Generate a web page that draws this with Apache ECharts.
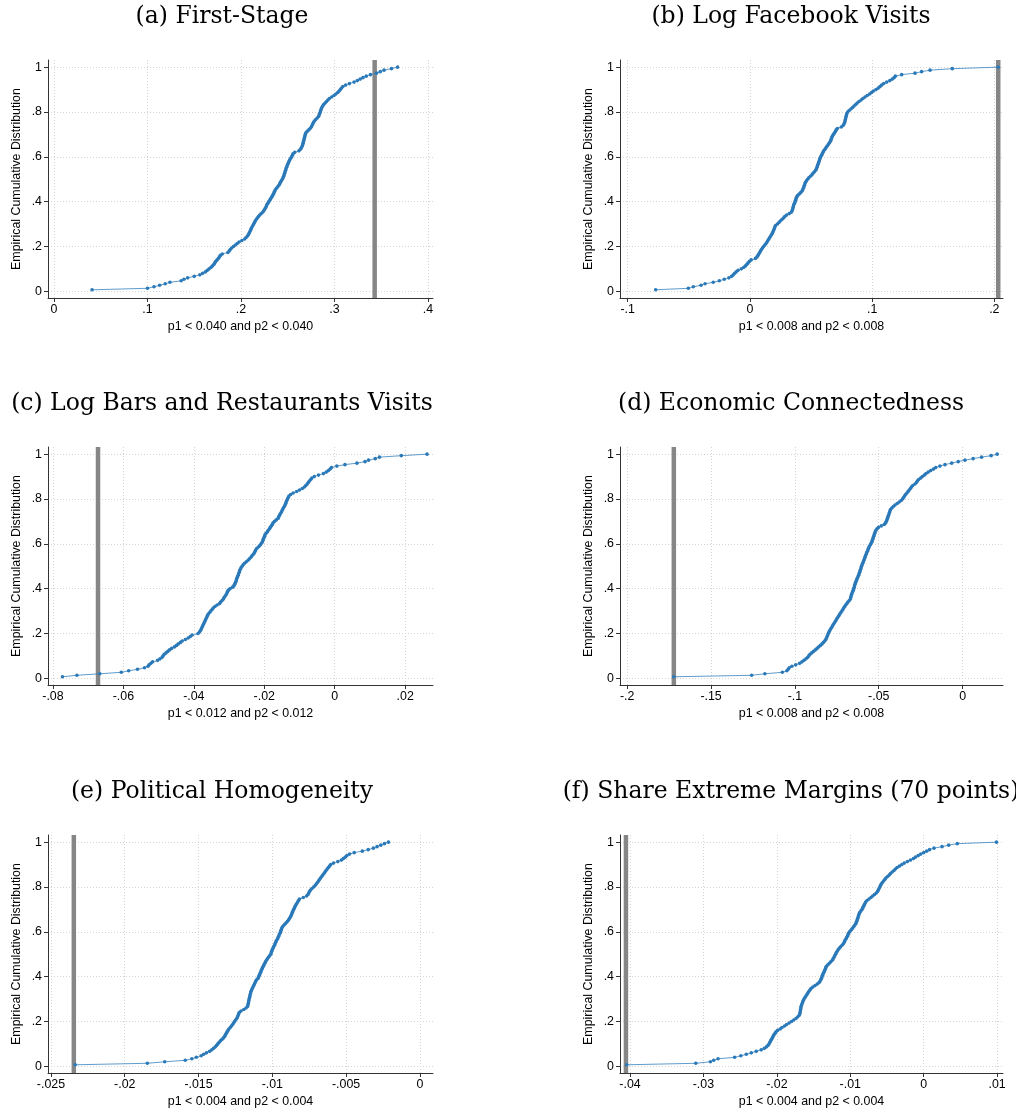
<!DOCTYPE html>
<html>
<head>
<meta charset="utf-8">
<title>Empirical cumulative distributions</title>
<script src="https://cdn.jsdelivr.net/npm/echarts@6/dist/echarts.min.js"></script>
<style>
  html, body { margin: 0; padding: 0; background: #fff; }
  #chart { width: 1016px; height: 1114px; }
</style>
</head>
<body>
<div id="chart"></div>
<script>
// Panel titles and x-axis captions
const titles = [
  '(a) First-Stage',
  '(b) Log Facebook Visits',
  '(c) Log Bars and Restaurants Visits',
  '(d) Economic Connectedness',
  '(e) Political Homogeneity',
  '(f) Share Extreme Margins (70 points)'
];
const xNames = [
  'p1 < 0.040 and p2 < 0.040',
  'p1 < 0.008 and p2 < 0.008',
  'p1 < 0.012 and p2 < 0.012',
  'p1 < 0.008 and p2 < 0.008',
  'p1 < 0.004 and p2 < 0.004',
  'p1 < 0.004 and p2 < 0.004'
];
const yName = 'Empirical Cumulative Distribution';

// Reference estimate for each panel (vertical bar)
const refLines = [0.343, 0.2032, -0.0672, -0.1722, -0.02345, -0.04055];

// Tick values
const xTicksA = [0, 0.1, 0.2, 0.3, 0.4];
const xTicksB = [-0.1, 0, 0.1, 0.2];
const xTicksC = [-0.08, -0.06, -0.04, -0.02, 0, 0.02];
const xTicksD = [-0.2, -0.15, -0.1, -0.05, 0];
const xTicksE = [-0.025, -0.02, -0.015, -0.01, -0.005, 0];
const xTicksF = [-0.04, -0.03, -0.02, -0.01, 0, 0.01];
const yTicks = [0, 0.2, 0.4, 0.6, 0.8, 1];

// Sorted estimates per panel; the cumulative share is rank / count
const estA = [
  0.0407, 0.1000, 0.1070, 0.1130, 0.1190, 0.1240, 0.1360, 0.1390, 0.1430, 0.1500,
  0.1560, 0.1590, 0.1620, 0.1640, 0.1660, 0.1680, 0.1695, 0.1710, 0.1720, 0.1730,
  0.1745, 0.1758, 0.1770, 0.1780, 0.1800, 0.1860, 0.1875, 0.1885, 0.1900, 0.1920,
  0.1940, 0.1960, 0.1980, 0.2010, 0.2040, 0.2055, 0.2070, 0.2080, 0.2088, 0.2096,
  0.2104, 0.2110, 0.2118, 0.2127, 0.2136, 0.2145, 0.2152, 0.2163, 0.2175, 0.2187,
  0.2200, 0.2217, 0.2234, 0.2245, 0.2255, 0.2265, 0.2272, 0.2278, 0.2288, 0.2298,
  0.2308, 0.2318, 0.2328, 0.2338, 0.2346, 0.2354, 0.2360, 0.2368, 0.2380, 0.2393,
  0.2405, 0.2415, 0.2422, 0.2432, 0.2442, 0.2450, 0.2456, 0.2462, 0.2467, 0.2472,
  0.2477, 0.2482, 0.2488, 0.2494, 0.2500, 0.2507, 0.2514, 0.2522, 0.2532, 0.2542,
  0.2550, 0.2557, 0.2575, 0.2620, 0.2636, 0.2646, 0.2654, 0.2660, 0.2664, 0.2668,
  0.2672, 0.2676, 0.2680, 0.2684, 0.2688, 0.2694, 0.2708, 0.2725, 0.2740, 0.2752,
  0.2760, 0.2768, 0.2775, 0.2785, 0.2800, 0.2815, 0.2830, 0.2836, 0.2842, 0.2848,
  0.2853, 0.2858, 0.2865, 0.2874, 0.2885, 0.2900, 0.2915, 0.2930, 0.2945, 0.2970,
  0.2995, 0.3015, 0.3035, 0.3050, 0.3063, 0.3075, 0.3090, 0.3120, 0.3160, 0.3210,
  0.3245, 0.3275, 0.3305, 0.3340, 0.3385, 0.3450, 0.3490, 0.3530, 0.3610, 0.3675
];
const estB = [
  -0.0771, -0.0504, -0.0463, -0.0400, -0.0367, -0.0300, -0.0250, -0.0210, -0.0172, -0.0150,
  -0.0136, -0.0125, -0.0112, -0.0097, -0.0070, -0.0050, -0.0036, -0.0025, -0.0015, -0.0004,
  0.0010, 0.0045, 0.0058, 0.0066, 0.0073, 0.0080, 0.0087, 0.0094, 0.0103, 0.0112,
  0.0122, 0.0132, 0.0140, 0.0147, 0.0155, 0.0162, 0.0170, 0.0178, 0.0184, 0.0190,
  0.0195, 0.0200, 0.0204, 0.0210, 0.0225, 0.0238, 0.0248, 0.0262, 0.0275, 0.0285,
  0.0300, 0.0322, 0.0340, 0.0346, 0.0350, 0.0353, 0.0356, 0.0360, 0.0365, 0.0370,
  0.0374, 0.0378, 0.0382, 0.0390, 0.0402, 0.0415, 0.0425, 0.0432, 0.0437, 0.0442,
  0.0446, 0.0450, 0.0455, 0.0463, 0.0472, 0.0482, 0.0495, 0.0508, 0.0516, 0.0528,
  0.0538, 0.0544, 0.0549, 0.0553, 0.0557, 0.0562, 0.0566, 0.0570, 0.0574, 0.0580,
  0.0586, 0.0592, 0.0598, 0.0604, 0.0614, 0.0622, 0.0630, 0.0640, 0.0648, 0.0656,
  0.0662, 0.0666, 0.0670, 0.0676, 0.0684, 0.0692, 0.0700, 0.0706, 0.0716, 0.0748,
  0.0762, 0.0770, 0.0775, 0.0778, 0.0781, 0.0784, 0.0787, 0.0790, 0.0793, 0.0800,
  0.0812, 0.0826, 0.0840, 0.0852, 0.0866, 0.0878, 0.0893, 0.0910, 0.0925, 0.0942,
  0.0960, 0.0980, 0.0995, 0.1010, 0.1032, 0.1050, 0.1065, 0.1078, 0.1095, 0.1120,
  0.1145, 0.1165, 0.1180, 0.1190, 0.1242, 0.1351, 0.1405, 0.1474, 0.1656, 0.2032
];
const estC = [
  -0.0773, -0.0732, -0.0667, -0.0606, -0.0585, -0.0560, -0.0540, -0.0530, -0.0527, -0.0522,
  -0.0517, -0.0503, -0.0496, -0.0490, -0.0487, -0.0484, -0.0479, -0.0474, -0.0469, -0.0463,
  -0.0455, -0.0449, -0.0444, -0.0438, -0.0433, -0.0424, -0.0416, -0.0410, -0.0405, -0.0388,
  -0.0384, -0.0381, -0.0379, -0.0377, -0.0375, -0.0373, -0.0371, -0.0369, -0.0367, -0.0365,
  -0.0363, -0.0361, -0.0359, -0.0355, -0.0352, -0.0348, -0.0345, -0.0340, -0.0334, -0.0327,
  -0.0324, -0.0320, -0.0316, -0.0314, -0.0311, -0.0308, -0.0306, -0.0304, -0.0302, -0.0297,
  -0.0290, -0.0286, -0.0284, -0.0282, -0.0280, -0.0279, -0.0278, -0.0276, -0.0274, -0.0273,
  -0.0271, -0.0270, -0.0268, -0.0266, -0.0263, -0.0260, -0.0256, -0.0251, -0.0246, -0.0242,
  -0.0238, -0.0235, -0.0231, -0.0228, -0.0226, -0.0224, -0.0221, -0.0216, -0.0212, -0.0209,
  -0.0206, -0.0204, -0.0203, -0.0201, -0.0199, -0.0198, -0.0195, -0.0191, -0.0189, -0.0185,
  -0.0183, -0.0180, -0.0177, -0.0175, -0.0171, -0.0166, -0.0161, -0.0159, -0.0157, -0.0155,
  -0.0152, -0.0150, -0.0148, -0.0146, -0.0143, -0.0141, -0.0139, -0.0138, -0.0136, -0.0134,
  -0.0132, -0.0130, -0.0125, -0.0118, -0.0108, -0.0100, -0.0092, -0.0086, -0.0082, -0.0078,
  -0.0075, -0.0072, -0.0068, -0.0065, -0.0058, -0.0046, -0.0032, -0.0024, -0.0018, -0.0013,
  -0.0009, 0.0006, 0.0029, 0.0063, 0.0086, 0.0096, 0.0115, 0.0127, 0.0189, 0.0262
];
const estD = [
  -0.1723, -0.1258, -0.1179, -0.1075, -0.1048, -0.1040, -0.1034, -0.1018, -0.0995, -0.0972,
  -0.0958, -0.0946, -0.0934, -0.0924, -0.0917, -0.0910, -0.0900, -0.0889, -0.0878, -0.0868,
  -0.0858, -0.0848, -0.0838, -0.0830, -0.0822, -0.0816, -0.0812, -0.0808, -0.0804, -0.0801,
  -0.0797, -0.0792, -0.0787, -0.0781, -0.0776, -0.0771, -0.0765, -0.0759, -0.0754, -0.0749,
  -0.0743, -0.0737, -0.0732, -0.0726, -0.0720, -0.0714, -0.0709, -0.0703, -0.0697, -0.0690,
  -0.0684, -0.0676, -0.0669, -0.0667, -0.0665, -0.0662, -0.0659, -0.0655, -0.0652, -0.0649,
  -0.0646, -0.0644, -0.0642, -0.0638, -0.0635, -0.0631, -0.0628, -0.0624, -0.0620, -0.0617,
  -0.0614, -0.0611, -0.0608, -0.0605, -0.0603, -0.0599, -0.0596, -0.0592, -0.0589, -0.0585,
  -0.0582, -0.0579, -0.0575, -0.0572, -0.0568, -0.0564, -0.0561, -0.0557, -0.0552, -0.0547,
  -0.0542, -0.0539, -0.0536, -0.0533, -0.0530, -0.0527, -0.0524, -0.0521, -0.0517, -0.0510,
  -0.0502, -0.0485, -0.0467, -0.0459, -0.0455, -0.0451, -0.0448, -0.0445, -0.0442, -0.0439,
  -0.0436, -0.0433, -0.0430, -0.0422, -0.0413, -0.0403, -0.0390, -0.0378, -0.0366, -0.0358,
  -0.0352, -0.0346, -0.0340, -0.0332, -0.0325, -0.0318, -0.0311, -0.0305, -0.0297, -0.0284,
  -0.0275, -0.0270, -0.0262, -0.0250, -0.0240, -0.0228, -0.0218, -0.0205, -0.0190, -0.0174,
  -0.0160, -0.0135, -0.0105, -0.0065, -0.0026, 0.0014, 0.0063, 0.0113, 0.0170, 0.0206
];
const estE = [
  -0.02336, -0.01847, -0.01729, -0.01590, -0.01545, -0.01515, -0.01482, -0.01465, -0.01446, -0.01425,
  -0.01410, -0.01398, -0.01386, -0.01377, -0.01369, -0.01360, -0.01352, -0.01341, -0.01331, -0.01323,
  -0.01318, -0.01312, -0.01306, -0.01300, -0.01294, -0.01285, -0.01277, -0.01269, -0.01262, -0.01256,
  -0.01249, -0.01241, -0.01236, -0.01232, -0.01228, -0.01224, -0.01212, -0.01193, -0.01178, -0.01168,
  -0.01165, -0.01163, -0.01161, -0.01159, -0.01157, -0.01154, -0.01152, -0.01150, -0.01147, -0.01145,
  -0.01140, -0.01136, -0.01131, -0.01126, -0.01121, -0.01116, -0.01112, -0.01105, -0.01096, -0.01092,
  -0.01088, -0.01083, -0.01079, -0.01075, -0.01071, -0.01066, -0.01061, -0.01056, -0.01051, -0.01046,
  -0.01040, -0.01033, -0.01026, -0.01018, -0.01011, -0.01007, -0.01004, -0.01000, -0.00996, -0.00991,
  -0.00985, -0.00981, -0.00977, -0.00973, -0.00966, -0.00961, -0.00957, -0.00953, -0.00948, -0.00944,
  -0.00941, -0.00937, -0.00933, -0.00925, -0.00916, -0.00906, -0.00897, -0.00889, -0.00883, -0.00877,
  -0.00872, -0.00868, -0.00864, -0.00860, -0.00855, -0.00850, -0.00846, -0.00840, -0.00834, -0.00828,
  -0.00822, -0.00816, -0.00790, -0.00768, -0.00758, -0.00753, -0.00748, -0.00741, -0.00731, -0.00720,
  -0.00710, -0.00702, -0.00694, -0.00687, -0.00680, -0.00673, -0.00665, -0.00658, -0.00650, -0.00643,
  -0.00636, -0.00628, -0.00620, -0.00612, -0.00604, -0.00585, -0.00556, -0.00532, -0.00518, -0.00505,
  -0.00494, -0.00476, -0.00445, -0.00390, -0.00350, -0.00315, -0.00290, -0.00265, -0.00240, -0.00213
];
const estF = [
  -0.04045, -0.03104, -0.02905, -0.02860, -0.02801, -0.02575, -0.02490, -0.02416, -0.02348, -0.02281,
  -0.02213, -0.02170, -0.02140, -0.02120, -0.02105, -0.02095, -0.02085, -0.02073, -0.02061, -0.02052,
  -0.02040, -0.02025, -0.02012, -0.01990, -0.01955, -0.01930, -0.01895, -0.01866, -0.01833, -0.01800,
  -0.01770, -0.01740, -0.01718, -0.01697, -0.01688, -0.01684, -0.01680, -0.01676, -0.01673, -0.01670,
  -0.01663, -0.01655, -0.01648, -0.01640, -0.01630, -0.01617, -0.01604, -0.01590, -0.01578, -0.01565,
  -0.01550, -0.01535, -0.01510, -0.01480, -0.01450, -0.01425, -0.01410, -0.01400, -0.01392, -0.01385,
  -0.01378, -0.01368, -0.01359, -0.01350, -0.01341, -0.01333, -0.01325, -0.01305, -0.01285, -0.01265,
  -0.01245, -0.01233, -0.01222, -0.01212, -0.01200, -0.01191, -0.01178, -0.01165, -0.01150, -0.01132,
  -0.01112, -0.01094, -0.01082, -0.01075, -0.01062, -0.01050, -0.01040, -0.01030, -0.01024, -0.01010,
  -0.00992, -0.00975, -0.00960, -0.00945, -0.00930, -0.00920, -0.00912, -0.00905, -0.00898, -0.00892,
  -0.00886, -0.00880, -0.00870, -0.00855, -0.00840, -0.00830, -0.00820, -0.00810, -0.00800, -0.00790,
  -0.00772, -0.00745, -0.00718, -0.00695, -0.00670, -0.00645, -0.00629, -0.00618, -0.00608, -0.00598,
  -0.00588, -0.00578, -0.00563, -0.00547, -0.00530, -0.00515, -0.00492, -0.00469, -0.00452, -0.00430,
  -0.00405, -0.00385, -0.00362, -0.00330, -0.00297, -0.00265, -0.00222, -0.00180, -0.00140, -0.00110,
  -0.00075, -0.00040, 0.00000, 0.00040, 0.00080, 0.00140, 0.00250, 0.00340, 0.00457, 0.00991
];

const estimates = [estA, estB, estC, estD, estE, estF];
const xTicks = [xTicksA, xTicksB, xTicksC, xTicksD, xTicksE, xTicksF];

// Axis extents and panel placement
const xRanges = [
  [-0.0064, 0.4054], [-0.1063, 0.2071],
  [-0.0814, 0.0279], [-0.2043, 0.0241],
  [-0.0252, 0.00089], [-0.04136, 0.0108]
];
const yRange = [-0.03, 1.032];
const colLeft = [48, 620];
const colWidth = [385, 383];
const rowTop = [60, 447, 835];
const gridHeight = 238;
const titleX = [222, 791];
const titleY = [17, 404, 792];

const BLUE = '#2a79b9';
const SANS = '"Liberation Sans", Arial, Helvetica, sans-serif';
const SERIF = '"DejaVu Serif", "Liberation Serif", serif';

function fmtTick(v) {
  if (Math.abs(v) < 1e-12) return '0';
  const s = String(+v.toFixed(5));
  return s.replace(/^(-?)0\./, '$1.');
}

const grids = [], xAxes = [], yAxes = [], series = [], graphics = [];

estimates.forEach((vals, i) => {
  const col = i % 2, row = Math.floor(i / 2);
  grids.push({
    left: colLeft[col], top: rowTop[row],
    width: colWidth[col], height: gridHeight,
    containLabel: false
  });
  xAxes.push({
    type: 'value', gridIndex: i,
    min: xRanges[i][0], max: xRanges[i][1],
    name: xNames[i], nameLocation: 'middle', nameGap: 23,
    nameTextStyle: { fontFamily: SANS, fontSize: 12.4, color: '#000' },
    axisLine: { show: true, onZero: false, lineStyle: { color: '#333', width: 1 } },
    axisTick: { show: true, length: 4, inside: false, customValues: xTicks[i], lineStyle: { color: '#333' } },
    axisLabel: { customValues: xTicks[i], formatter: fmtTick, margin: 6,
                 fontFamily: SANS, fontSize: 12.4, color: '#000' },
    splitLine: { show: true, lineStyle: { type: [1, 2], color: '#d4d4d4', width: 1 } }
  });
  yAxes.push({
    type: 'value', gridIndex: i,
    min: yRange[0], max: yRange[1],
    name: yName, nameLocation: 'middle', nameGap: 25, nameRotate: 90,
    nameTextStyle: { fontFamily: SANS, fontSize: 12.4, color: '#000' },
    axisLine: { show: true, onZero: false, lineStyle: { color: '#333', width: 1 } },
    axisTick: { show: true, length: 4, inside: false, customValues: yTicks, lineStyle: { color: '#333' } },
    axisLabel: { customValues: yTicks, formatter: fmtTick, margin: 6,
                 fontFamily: SANS, fontSize: 12.4, color: '#000' },
    splitLine: { show: true, lineStyle: { type: [1, 2], color: '#d4d4d4', width: 1 } }
  });

  // vertical bar at the reference estimate
  series.push({
    type: 'line', xAxisIndex: i, yAxisIndex: i,
    data: [[refLines[i], yRange[0]], [refLines[i], yRange[1]]],
    symbol: 'none', silent: true, z: 2,
    lineStyle: { color: '#868686', width: 4.5 }
  });

  // empirical CDF: sorted estimates against their cumulative share
  const sorted = vals.slice().sort((a, b) => a - b);
  const n = sorted.length;
  series.push({
    type: 'line', xAxisIndex: i, yAxisIndex: i,
    data: sorted.map((x, k) => [x, (k + 1) / n]),
    symbol: 'circle', symbolSize: 3.6, showSymbol: true, showAllSymbol: true,
    itemStyle: { color: BLUE },
    lineStyle: { color: BLUE, width: 1, opacity: 0.75 },
    z: 3, silent: true
  });

  graphics.push({
    type: 'text', x: titleX[col], y: titleY[row], silent: true,
    style: {
      text: titles[i], fill: '#000',
      font: '23.5px ' + SERIF,
      textAlign: 'center', textVerticalAlign: 'middle'
    }
  });
});

const chart = echarts.init(document.getElementById('chart'), null, { renderer: 'canvas' });
chart.setOption({
  backgroundColor: '#fff',
  animation: false,
  grid: grids,
  xAxis: xAxes,
  yAxis: yAxes,
  series: series,
  graphic: graphics
});
</script>
</body>
</html>
